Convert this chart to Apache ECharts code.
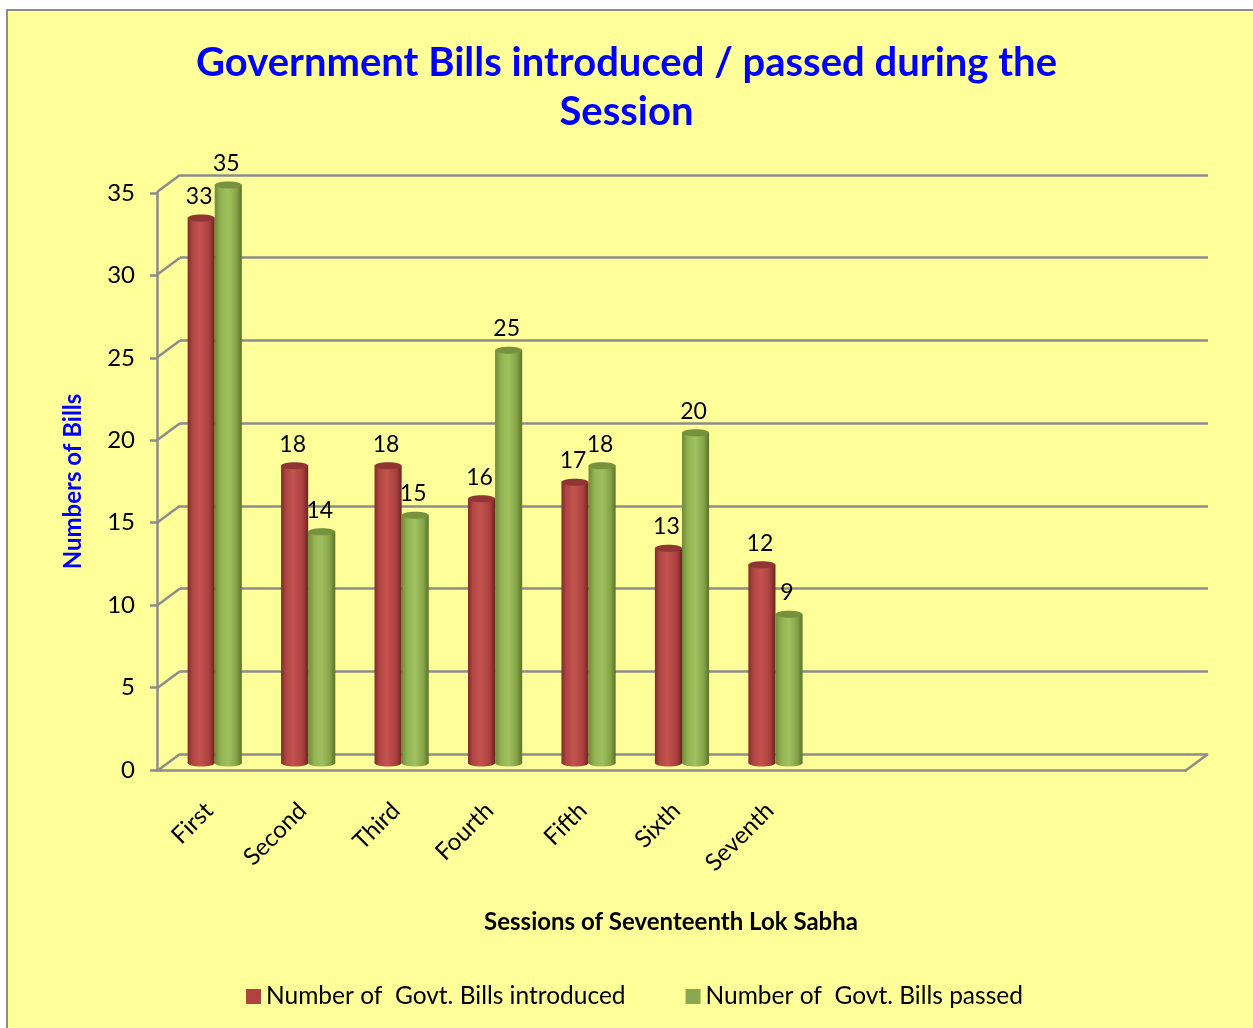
<!DOCTYPE html>
<html>
<head>
<meta charset="utf-8">
<script src="https://cdn.jsdelivr.net/npm/echarts@6/dist/echarts.min.js"></script>
<style>
  html, body { margin: 0; padding: 0; background: #ffffff; }
  #frame { position: absolute; left: 6px; top: 9px; width: 1253px; height: 1028px;
           border-left: 2px solid #8c8c8c; border-top: 2px solid #8c8c8c; background: #FFFF99; }
  #chart { position: absolute; left: 0; top: 0; width: 1253px; height: 1028px; }
</style>
</head>
<body>
<div id="frame"></div>
<div id="chart"></div>
<script>
const categories = ['First', 'Second', 'Third', 'Fourth', 'Fifth', 'Sixth', 'Seventh', '', '', '', ''];
const introduced = [33, 18, 18, 16, 17, 13, 12];
const passed = [35, 14, 15, 25, 18, 20, 9];
const yTicks = [0, 5, 10, 15, 20, 25, 30, 35];
const seriesNames = ['Number of  Govt. Bills introduced', 'Number of  Govt. Bills passed'];

const FONT = 'Lato, "Open Sans", sans-serif';
const GRID_COLOR = '#8c8c8c';
const DEPTH = [-23, 17];

const palettes = {
  red: {
    body: [[0, '#7e2c2a'], [0.18, '#b04643'], [0.45, '#c4534f'], [0.8, '#a9403d'], [1, '#6b2321']],
    cap: '#8f3533', legend: '#B0433F'
  },
  green: {
    body: [[0, '#6f8a38'], [0.22, '#93b352'], [0.5, '#a0c160'], [0.8, '#86a447'], [1, '#5a7329']],
    cap: '#76923c', legend: '#8AA84E'
  }
};

function grad(stops) {
  return new echarts.graphic.LinearGradient(0, 0, 1, 0, stops.map(s => ({ offset: s[0], color: s[1] })));
}

function cylinder(pal, sign) {
  return function (params, api) {
    const idx = api.value(0), val = api.value(1);
    const top = api.coord([idx, val]);
    const base = api.coord([idx, 0]);
    const band = api.size([1, 0])[0];
    const w = band * 0.29;
    const cx = top[0] + sign * w / 2;
    const ry = 3.5;
    return {
      type: 'group',
      children: [
        { type: 'ellipse', shape: { cx: cx, cy: base[1], rx: w / 2, ry: ry }, style: { fill: grad(pal.body) } },
        { type: 'rect', shape: { x: cx - w / 2, y: top[1], width: w, height: base[1] - top[1] }, style: { fill: grad(pal.body) } },
        { type: 'ellipse', shape: { cx: cx, cy: top[1], rx: w / 2, ry: ry }, style: { fill: pal.cap } },
        { type: 'text', style: { text: String(val), x: cx - 2, y: top[1] - 10, align: 'center', verticalAlign: 'bottom',
            fontSize: 23, fontFamily: FONT, fill: '#000' } }
      ]
    };
  };
}

const chart = echarts.init(document.getElementById('chart'), null, { renderer: 'canvas' });
chart.setOption({
  backgroundColor: 'transparent',
  animation: false,
  title: {
    text: 'Government Bills introduced / passed during the\nSession',
    left: 'center', top: 34,
    textStyle: { color: '#0000FF', fontSize: 40, fontWeight: 'bold', fontFamily: FONT, lineHeight: 49 }
  },
  legend: {
    bottom: 14, left: 241, itemGap: 60, itemWidth: 15, itemHeight: 15, icon: 'rect',
    data: [
      { name: seriesNames[0], itemStyle: { color: palettes.red.legend } },
      { name: seriesNames[1], itemStyle: { color: palettes.green.legend } }
    ],
    textStyle: { fontSize: 24.5, fontFamily: FONT, color: '#000' }
  },
  grid: [
    { left: 180, right: 45, top: 175, bottom: 274 },
    { left: 157, right: 68, top: 193, bottom: 258 },
    { left: 168, right: 57, top: 185, bottom: 265 }
  ],
  xAxis: [
    { gridIndex: 0, type: 'value', min: 0, max: 1, show: false },
    { gridIndex: 1, type: 'value', min: 0, max: 1,
      axisLine: { show: true, lineStyle: { color: GRID_COLOR, width: 2.5 } },
      axisTick: { show: false }, axisLabel: { show: false }, splitLine: { show: false },
      name: 'Sessions of Seventeenth Lok Sabha', nameLocation: 'middle', nameGap: 140,
      nameTextStyle: { fontSize: 24, fontWeight: 'bold', fontFamily: FONT, color: '#000' } },
    { gridIndex: 2, type: 'category', data: categories,
      axisLine: { show: false }, axisTick: { show: false },
      axisLabel: { interval: 0, rotate: 45, margin: 38, padding: [0, 8, 0, 0], fontSize: 24, fontFamily: FONT, color: '#000' } }
  ],
  yAxis: [
    { gridIndex: 0, type: 'value', min: 0, max: 35, interval: 5,
      axisLine: { show: false }, axisTick: { show: false }, axisLabel: { show: false },
      splitLine: { show: true, lineStyle: { color: GRID_COLOR, width: 2.5 } } },
    { gridIndex: 1, type: 'value', min: 0, max: 35, interval: 5,
      axisLine: { show: true, lineStyle: { color: GRID_COLOR, width: 2.5 } },
      axisTick: { show: true, length: 7, lineStyle: { color: GRID_COLOR, width: 2.5 } },
      axisLabel: { margin: 22, fontSize: 24, fontFamily: FONT, color: '#000' },
      splitLine: { show: false },
      name: 'Numbers of Bills', nameLocation: 'middle', nameGap: 72,
      nameTextStyle: { fontSize: 24, fontWeight: 'bold', fontFamily: FONT, color: '#0000FF' } },
    { gridIndex: 2, type: 'value', min: 0, max: 35, interval: 5, show: false }
  ],
  series: [
    {
      type: 'custom', name: 'frame', xAxisIndex: 0, yAxisIndex: 0, silent: true, clip: false,
      data: yTicks.map(v => [0, v]),
      renderItem: function (params, api) {
        const v = api.value(1);
        const p = api.coord([0, v]);
        const children = [{ type: 'line', shape: { x1: p[0], y1: p[1], x2: p[0] + DEPTH[0], y2: p[1] + DEPTH[1] },
          style: { stroke: GRID_COLOR, lineWidth: 2.5 } }];
        if (v === 0) {
          const q = api.coord([1, 0]);
          children.push({ type: 'line', shape: { x1: q[0], y1: q[1], x2: q[0] + DEPTH[0], y2: q[1] + DEPTH[1] },
            style: { stroke: GRID_COLOR, lineWidth: 2.5 } });
        }
        return { type: 'group', children: children };
      }
    },
    {
      type: 'custom', name: seriesNames[0], xAxisIndex: 2, yAxisIndex: 2, clip: false,
      itemStyle: { color: palettes.red.legend },
      data: introduced.map((v, i) => [i, v]),
      renderItem: cylinder(palettes.red, -1)
    },
    {
      type: 'custom', name: seriesNames[1], xAxisIndex: 2, yAxisIndex: 2, clip: false,
      itemStyle: { color: palettes.green.legend },
      data: passed.map((v, i) => [i, v]),
      renderItem: cylinder(palettes.green, 1)
    }
  ]
});
</script>
</body>
</html>
